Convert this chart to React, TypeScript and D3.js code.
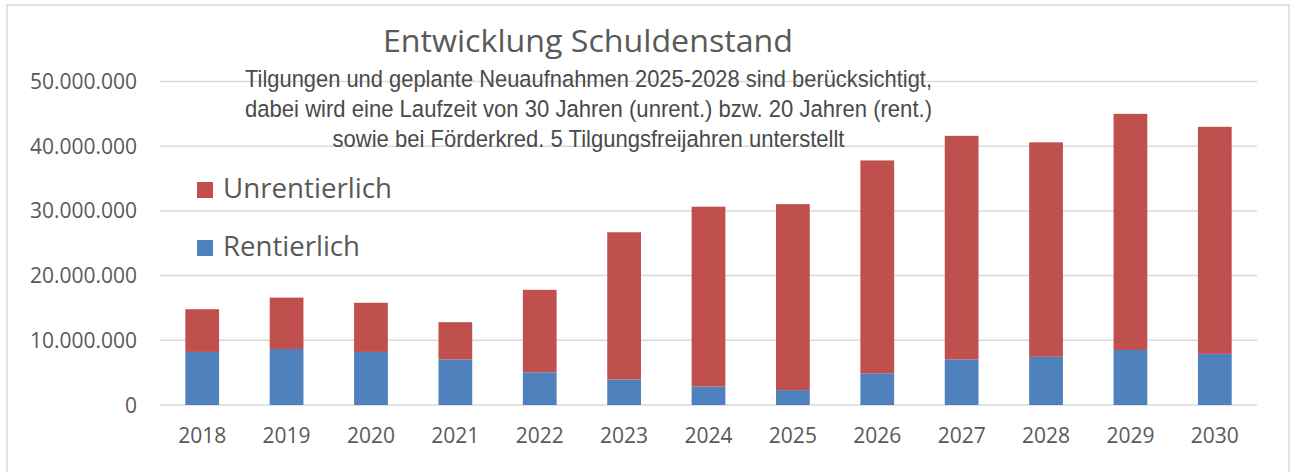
import React, { useRef, useEffect } from 'react';
import * as d3 from 'd3';

// Jahre und Werte (in Euro)
const years = ['2018', '2019', '2020', '2021', '2022', '2023', '2024', '2025', '2026', '2027', '2028', '2029', '2030'];
const rentierlich = [8200000, 8650000, 8200000, 7050000, 5050000, 3950000, 2850000, 2300000, 4900000, 7050000, 7450000, 8500000, 7900000];
const gesamt = [14800000, 16600000, 15800000, 12800000, 17800000, 26700000, 30650000, 31050000, 37800000, 41600000, 40600000, 45000000, 43000000];
const unrentierlich = gesamt.map((g, i) => g - rentierlich[i]);
const yTicks = [0, 10000000, 20000000, 30000000, 40000000, 50000000];

const titleText = 'Entwicklung Schuldenstand';
const subtitleLines = [
  'Tilgungen und geplante Neuaufnahmen 2025-2028 sind berücksichtigt,',
  'dabei wird eine Laufzeit von 30 Jahren (unrent.) bzw. 20 Jahren (rent.)',
  'sowie bei Förderkred. 5 Tilgungsfreijahren unterstellt'
];
const subtitleWidths = [687, 687, 512];

const series = [
  { key: 'Rentierlich', values: rentierlich, color: '#4F81BD' },
  { key: 'Unrentierlich', values: unrentierlich, color: '#C0504D' }
];

const W = 1293;
const H = 472;
const textColor = '#595959';
const gridColor = '#d9d9d9';
const font = '"Open Sans", "Liberation Sans", sans-serif';

// German thousands separator
const fmt = (v: number) => d3.format(',')(v).replace(/,/g, '.');

const App = () => {
  const ref = useRef<SVGSVGElement>(null);

  useEffect(() => {
    const svg = d3.select(ref.current);
    svg.selectAll('*').remove();

    const plot = { left: 160, right: 1257, top: 81.5, bottom: 405 };

    // Chart frame
    svg.append('rect')
      .attr('x', 7).attr('y', 5)
      .attr('width', 1282).attr('height', 500)
      .attr('fill', '#fff')
      .attr('stroke', gridColor)
      .attr('stroke-width', 1.5);

    const x = d3.scaleBand()
      .domain(years)
      .range([plot.left, plot.right])
      .paddingInner(0.6)
      .paddingOuter(0.3);

    const y = d3.scaleLinear()
      .domain([0, 50000000])
      .range([plot.bottom, plot.top]);

    // Gridlines
    svg.append('g')
      .selectAll('line')
      .data(yTicks)
      .join('line')
      .attr('x1', plot.left).attr('x2', plot.right)
      .attr('y1', d => y(d)).attr('y2', d => y(d))
      .attr('stroke', gridColor)
      .attr('stroke-width', 1.5);

    // Y tick labels
    svg.append('g')
      .selectAll('text')
      .data(yTicks)
      .join('text')
      .attr('x', 137)
      .attr('y', d => y(d) + 7.5)
      .attr('text-anchor', 'end')
      .style('font-family', font)
      .style('font-size', '21px')
      .attr('fill', textColor)
      .text(d => fmt(d));

    // X tick labels
    svg.append('g')
      .selectAll('text')
      .data(years)
      .join('text')
      .attr('x', d => (x(d) as number) + x.bandwidth() / 2)
      .attr('y', 443)
      .attr('text-anchor', 'middle')
      .style('font-family', font)
      .style('font-size', '21px')
      .attr('fill', textColor)
      .text(d => d);

    // Stacked bars
    const rows = years.map((yr, i) => ({ year: yr, Rentierlich: rentierlich[i], Unrentierlich: unrentierlich[i] }));
    const stack = d3.stack<any>().keys(series.map(s => s.key))(rows);

    svg.append('g')
      .selectAll('g')
      .data(stack)
      .join('g')
      .attr('fill', (d, i) => series[i].color)
      .selectAll('rect')
      .data(d => d)
      .join('rect')
      .attr('x', d => x(d.data.year) as number)
      .attr('width', x.bandwidth())
      .attr('y', d => y(d[1]))
      .attr('height', d => y(d[0]) - y(d[1]));

    // Title
    svg.append('text')
      .attr('x', 588)
      .attr('y', 52)
      .attr('text-anchor', 'middle')
      .attr('textLength', 410)
      .attr('lengthAdjust', 'spacingAndGlyphs')
      .style('font-family', font)
      .style('font-size', '31.5px')
      .attr('fill', textColor)
      .text(titleText);

    // Subtitle (narrow font)
    svg.append('g')
      .selectAll('text')
      .data(subtitleLines)
      .join('text')
      .attr('x', 588.5)
      .attr('y', (d, i) => 87 + i * 30)
      .attr('text-anchor', 'middle')
      .attr('textLength', (d, i) => subtitleWidths[i])
      .attr('lengthAdjust', 'spacingAndGlyphs')
      .style('font-family', '"Liberation Sans Narrow", "Liberation Sans", Arial, sans-serif')
      .style('font-size', '24.5px')
      .attr('fill', '#4a4a4a')
      .text(d => d);

    // Legend
    const legend = [
      { key: 'Unrentierlich', color: '#C0504D', y: 198, w: 169 },
      { key: 'Rentierlich', color: '#4F81BD', y: 256, w: 137 }
    ];
    const lg = svg.append('g');
    lg.selectAll('rect')
      .data(legend)
      .join('rect')
      .attr('x', 197)
      .attr('y', d => d.y - 16)
      .attr('width', 16)
      .attr('height', 16)
      .attr('fill', d => d.color);
    lg.selectAll('text')
      .data(legend)
      .join('text')
      .attr('x', 223)
      .attr('y', d => d.y)
      .attr('textLength', d => d.w)
      .attr('lengthAdjust', 'spacingAndGlyphs')
      .style('font-family', font)
      .style('font-size', '27px')
      .attr('fill', textColor)
      .text(d => d.key);
  }, []);

  return (
    <svg
      ref={ref}
      width={W}
      height={H}
      style={{ position: 'absolute', left: 0, top: 0, display: 'block', background: '#fff' }}
    />
  );
};

export default App;
